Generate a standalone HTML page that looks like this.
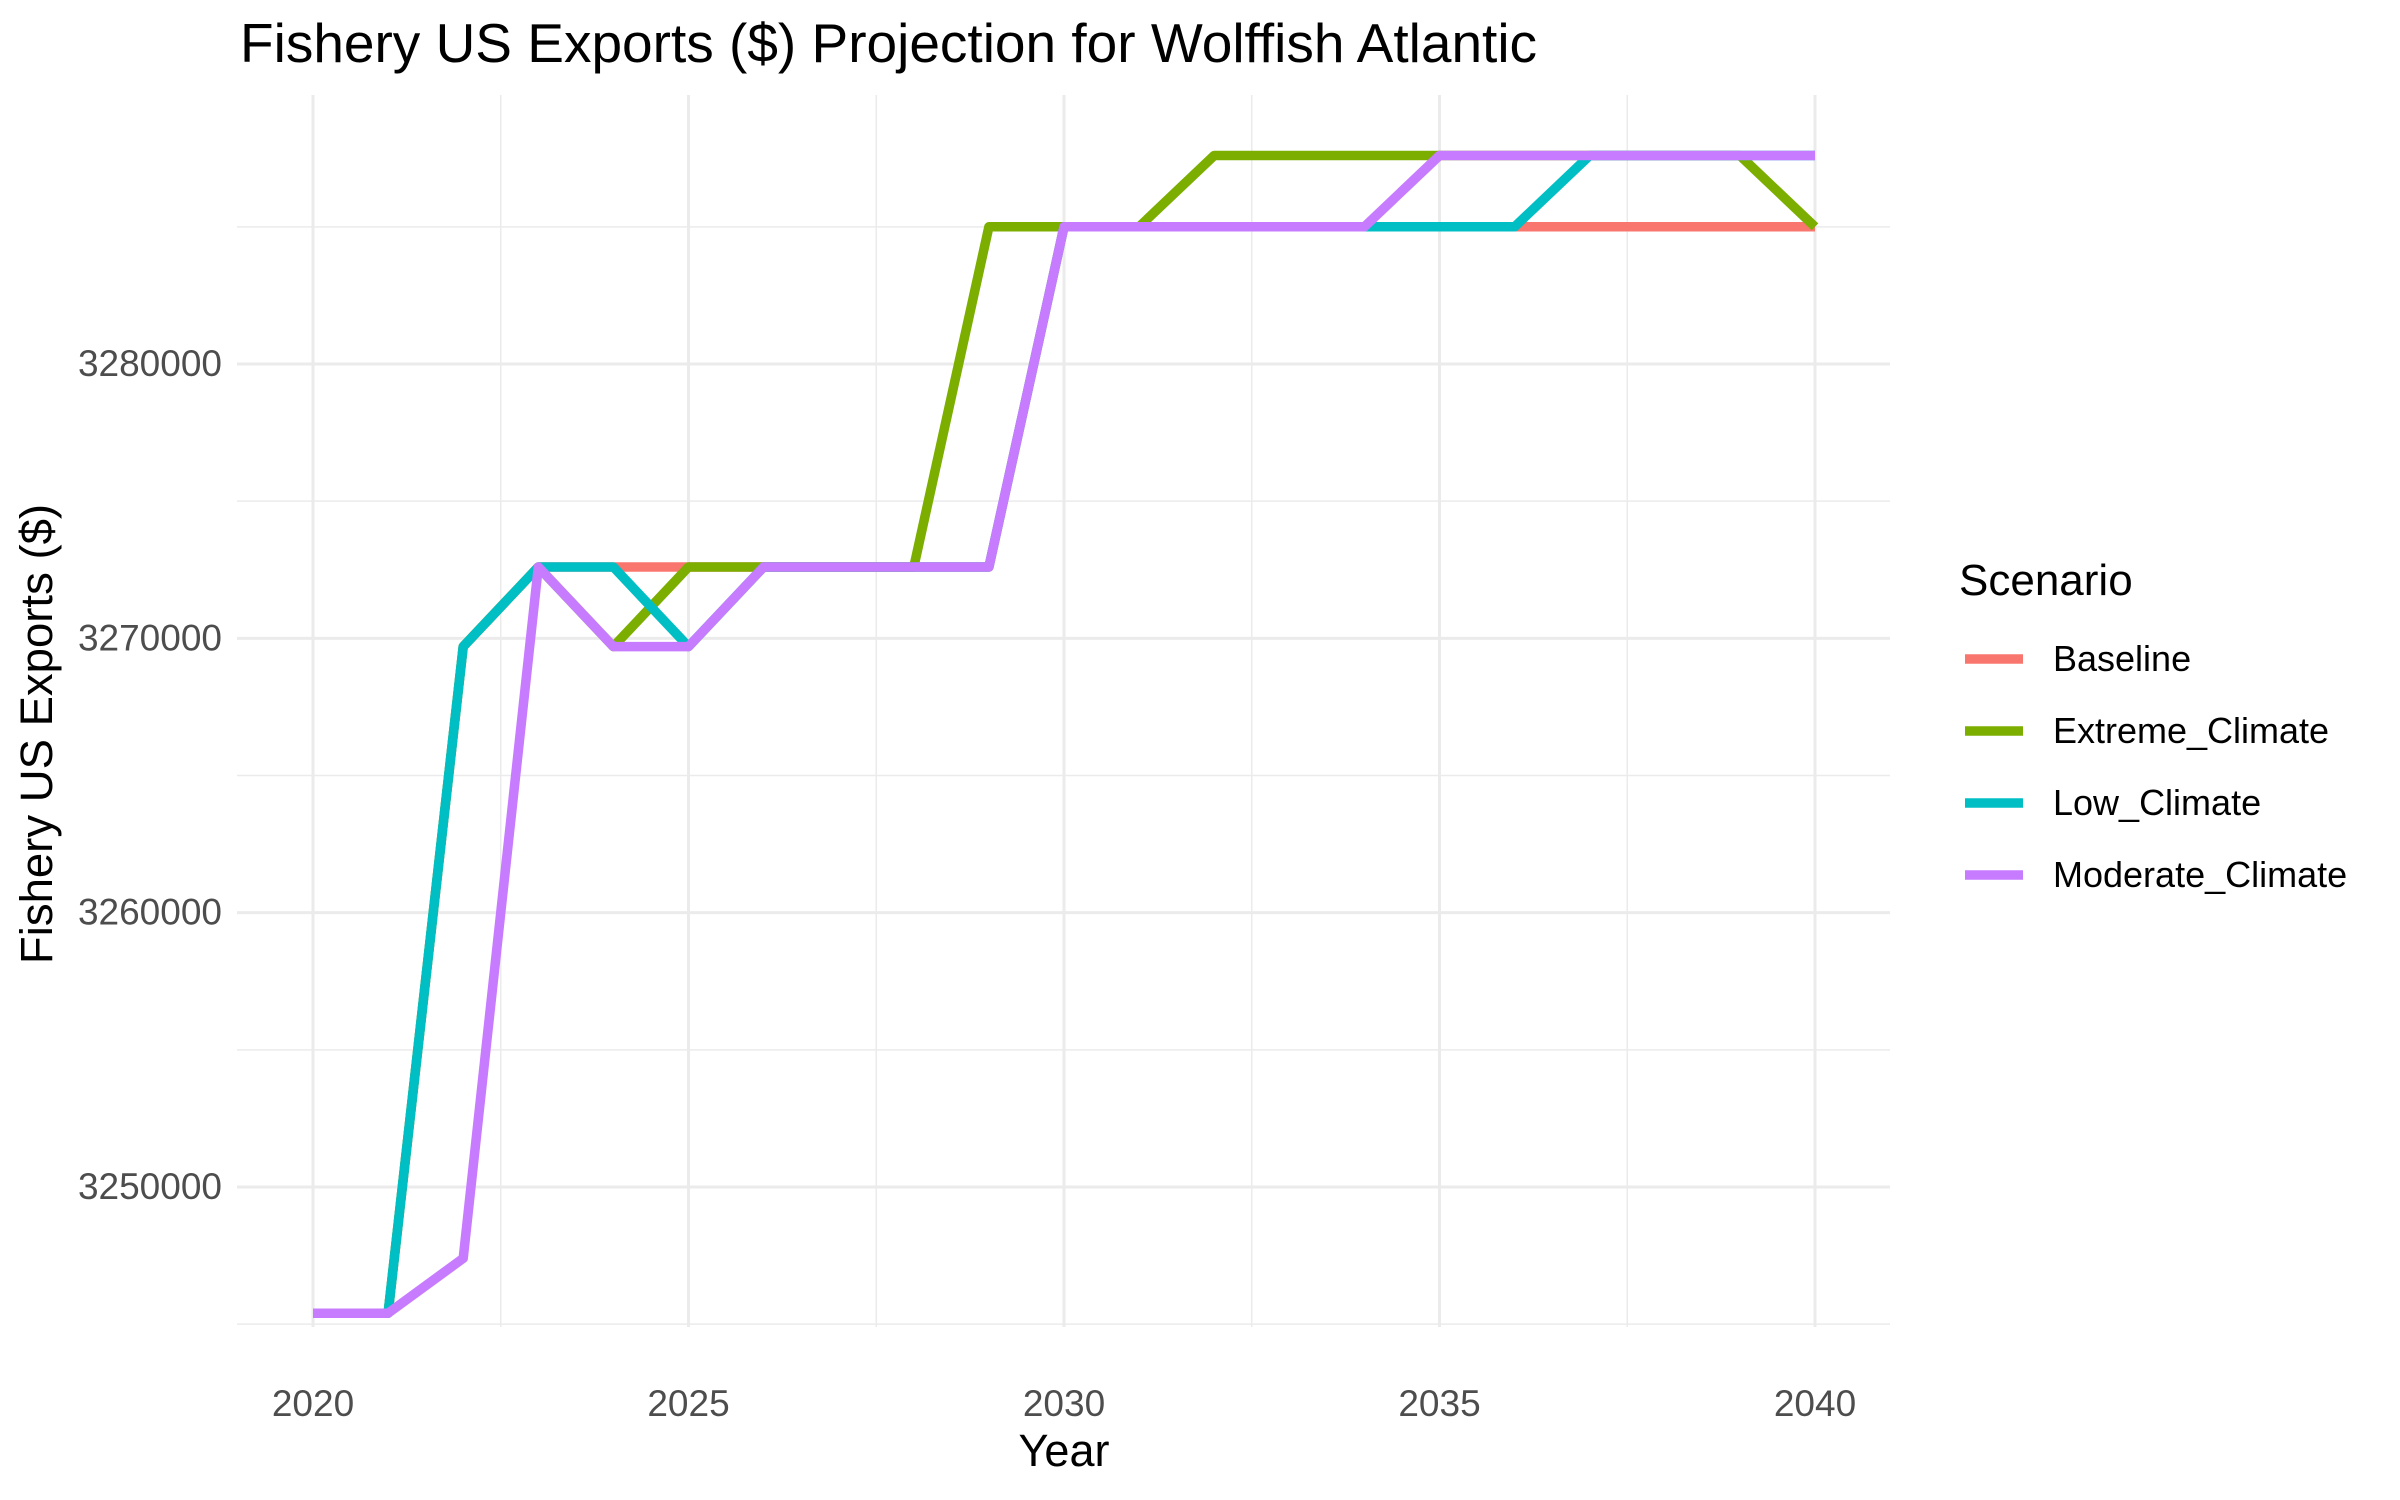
<!DOCTYPE html>
<html><head><meta charset="utf-8"><style>
html,body{margin:0;padding:0;background:#fff;}
svg{display:block;font-family:"Liberation Sans",Arial,sans-serif;}
</style></head><body>
<svg id="chart" width="2400" height="1500" viewBox="0 0 2400 1500">
<text x="240" y="62" font-size="55" fill="#000">Fishery US Exports ($) Projection for Wolffish Atlantic</text>
<g id="grid"></g>
<g id="yticks"></g>
<g id="xticks"></g>
<g id="lines"></g>
<text x="1064" y="1466" font-size="45" text-anchor="middle" fill="#000">Year</text>
<text transform="translate(52,734) rotate(-90)" font-size="45.5" text-anchor="middle" fill="#000">Fishery US Exports ($)</text>
<g id="legend">
<text x="1959" y="595" font-size="44" fill="#000">Scenario</text>
</g>
</svg>
<script>
const years = [2020,2021,2022,2023,2024,2025,2026,2027,2028,2029,2030,2031,2032,2033,2034,2035,2036,2037,2038,2039,2040];
const baseline = [3245400,3245400,3269700,3272600,3272600,3272600,3272600,3272600,3272600,3272600,3285000,3285000,3285000,3285000,3285000,3285000,3285000,3285000,3285000,3285000,3285000];
const extremeClimate = [3245400,3245400,3269700,3272600,3269700,3272600,3272600,3272600,3272600,3285000,3285000,3285000,3287600,3287600,3287600,3287600,3287600,3287600,3287600,3287600,3285000];
const lowClimate = [3245400,3245400,3269700,3272600,3272600,3269700,3272600,3272600,3272600,3272600,3285000,3285000,3285000,3285000,3285000,3285000,3285000,3287600,3287600,3287600,3287600];
const moderateClimate = [3245400,3245400,3247400,3272600,3269700,3269700,3272600,3272600,3272600,3272600,3285000,3285000,3285000,3285000,3285000,3287600,3287600,3287600,3287600,3287600,3287600];
const seriesNames = ["Baseline","Extreme_Climate","Low_Climate","Moderate_Climate"];
const yTicks = [3250000,3260000,3270000,3280000];
const xTicks = [2020,2025,2030,2035,2040];

const NS="http://www.w3.org/2000/svg";
const colors=["#F8766D","#7CAE00","#00BFC4","#C77CFF"];
const allSeries=[baseline,extremeClimate,lowClimate,moderateClimate];
const P={l:237,r:1890,t:95,b:1327};
function xs(v){return 313+(v-2020)*(1815-313)/20;}
function ys(v){return 364-(v-3280000)*(1187-364)/30000;}
function mk(tag,attrs,parent){const e=document.createElementNS(NS,tag);for(const k in attrs)e.setAttribute(k,attrs[k]);parent.appendChild(e);return e;}
const grid=document.getElementById('grid');
for(let v=3245000;v<=3290000;v+=10000){const y=ys(v);if(y<P.t||y>P.b)continue;
 const l=mk('line',{x1:P.l,x2:P.r,y1:y,y2:y,stroke:'#ebebeb','stroke-width':1.5},grid);
 
 }
for(let v=2022.5;v<=2040;v+=5){const x=xs(v);
 const l=mk('line',{x1:x,x2:x,y1:P.t,y2:P.b,stroke:'#ebebeb','stroke-width':1.5},grid);
 
 }
const yt=document.getElementById('yticks');
yTicks.forEach(v=>{const y=ys(v);
 const l=mk('line',{x1:P.l,x2:P.r,y1:y,y2:y,stroke:'#ebebeb','stroke-width':3},grid);
 
 
 const t=mk('text',{x:222,y:y+12,'font-size':37,'text-anchor':'end',fill:'#4d4d4d'},yt);t.textContent=v;
 
 });
const xt=document.getElementById('xticks');
xTicks.forEach(v=>{const x=xs(v);
 const l=mk('line',{x1:x,x2:x,y1:P.t,y2:P.b,stroke:'#ebebeb','stroke-width':3},grid);
 
 
 const t=mk('text',{x:x,y:1416,'font-size':37,'text-anchor':'middle',fill:'#4d4d4d'},xt);t.textContent=v;
 
 });
const lg=document.getElementById('lines');
allSeries.forEach((s,i)=>{const pts=s.map((v,j)=>xs(years[j]).toFixed(1)+','+ys(v).toFixed(1)).join(' ');
 const p=mk('polyline',{points:pts,fill:'none',stroke:colors[i],'stroke-width':9.5,'stroke-linejoin':'round'},lg);
 
 });
const leg=document.getElementById('legend');
seriesNames.forEach((n,i)=>{const y=659+i*72;
 const g=mk('g',{},leg);
 
 
 mk('line',{x1:1965,x2:2023,y1:y,y2:y,stroke:colors[i],'stroke-width':9.5},g);
 const t=mk('text',{x:2053,y:y+12,'font-size':36,fill:'#000'},g);t.textContent=n;});
</script>
</body></html>
